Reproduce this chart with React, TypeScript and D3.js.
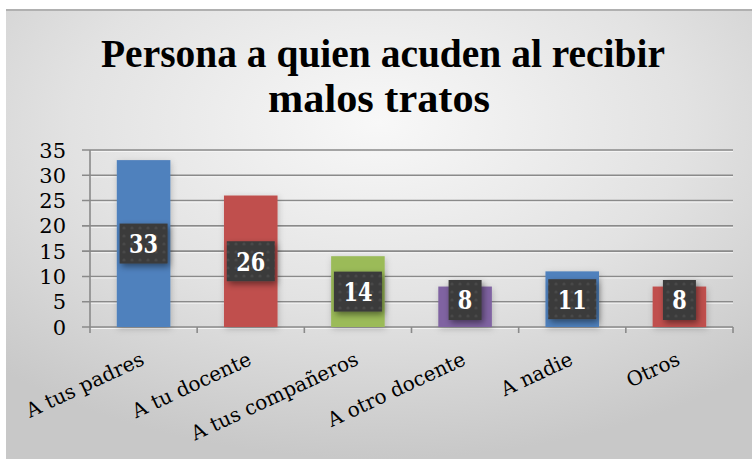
import React from "react";
import * as d3 from "d3";

const categories = ["A tus padres", "A tu docente", "A tus compañeros", "A otro docente", "A nadie", "Otros"];
const values = [33, 26, 14, 8, 11, 8];
const barColors = ["#4f81bd", "#c0504d", "#9bbb59", "#8064a2", "#4f81bd", "#c0504d"];
const yTicks = [0, 5, 10, 15, 20, 25, 30, 35];
const titleLines = ["Persona a quien acuden al recibir", "malos tratos"];

const W = 752;
const H = 459;
const left = 90;
const right = 733;
const top = 150;
const bottom = 327;
const serif = "'DejaVu Serif', 'Liberation Serif', serif";
const titleFont = "'Liberation Serif', 'DejaVu Serif', serif";

export default function App() {
  const x = d3.scaleBand<string>().domain(categories).range([left, right]).paddingInner(0.5).paddingOuter(0.25);
  const band = d3.scaleBand<string>().domain(categories).range([left, right]);
  const y = d3.scaleLinear().domain([0, 35]).range([bottom, top]);

  return (
    <div style={{ position: "absolute", left: 0, top: 0 }}>
      <svg width={W} height={H} style={{ display: "block" }}>
        <defs>
          <radialGradient id="bg" cx="50%" cy="25%" r="75%">
            <stop offset="0%" stopColor="#f8f8f8" />
            <stop offset="55%" stopColor="#e2e2e2" />
            <stop offset="100%" stopColor="#c8c8c8" />
          </radialGradient>
          <pattern id="dots" width="8" height="8" patternUnits="userSpaceOnUse">
            <rect width="8" height="8" fill="#3b3b3b" />
            <circle cx="4" cy="4" r="1.6" fill="#4a4a4a" />
          </pattern>
          <filter id="shadow" x="-30%" y="-30%" width="170%" height="180%">
            <feDropShadow dx="2" dy="3" stdDeviation="3" floodColor="#000" floodOpacity="0.45" />
          </filter>
          <filter id="barShadow" x="-30%" y="-10%" width="160%" height="130%">
            <feDropShadow dx="1" dy="2" stdDeviation="3" floodColor="#000" floodOpacity="0.2" />
          </filter>
        </defs>
        <rect x={0} y={0} width={W} height={H} fill="#ffffff" />
        <rect x={6} y={10} width={W - 6} height={H - 10} fill="url(#bg)" />
        <line x1={6} x2={W} y1={10} y2={10} stroke="#b0b0b0" strokeWidth={2} />

        {titleLines.map((t, i) => (
          <text
            key={t}
            x={i === 0 ? 383 : 379}
            y={i === 0 ? 67 : 112}
            textAnchor="middle"
            fontFamily={titleFont}
            fontWeight="bold"
            fontSize={39}
            fill="#000"
            textLength={i === 0 ? 564 : 222}
            lengthAdjust="spacingAndGlyphs"
          >
            {t}
          </text>
        ))}

        {yTicks.map((t) => (
          <g key={t}>
            <line x1={left - 8} x2={right} y1={y(t)} y2={y(t)} stroke="#8a8a8a" strokeWidth={1.6} />
            <line x1={left} x2={right} y1={y(t) + 1.5} y2={y(t) + 1.5} stroke="#f4f4f4" strokeWidth={1} />
            <text
              x={66}
              y={y(t)}
              dy="0.36em"
              textAnchor="end"
              fontFamily={serif}
              fontSize={21}
              fill="#000"
            >
              {t}
            </text>
          </g>
        ))}
        <line x1={left} x2={left} y1={top} y2={bottom} stroke="#8a8a8a" strokeWidth={1.6} />
        {d3.range(categories.length + 1).map((i) => {
          const tx = left + band.step() * i;
          return <line key={i} x1={tx} x2={tx} y1={bottom} y2={bottom + 6} stroke="#8a8a8a" strokeWidth={1.6} />;
        })}

        {categories.map((c, i) => (
          <rect
            key={c}
            x={x(c)}
            y={y(values[i])}
            width={x.bandwidth()}
            height={bottom - y(values[i])}
            fill={barColors[i]}
            filter="url(#barShadow)"
          />
        ))}

        {categories.map((c, i) => {
          const cx = (x(c) as number) + x.bandwidth() / 2;
          const cy = Math.min((y(values[i]) + bottom) / 2, bottom - 27);
          const label = String(values[i]);
          const bw = label.length > 1 ? 48 : 33;
          const bh = 40;
          return (
            <g key={c}>
              <rect x={cx - bw / 2} y={cy - bh / 2} width={bw} height={bh} fill="url(#dots)" filter="url(#shadow)" />
              <text
                x={cx}
                y={cy}
                dy="0.36em"
                textAnchor="middle"
                fontFamily={serif}
                fontWeight="bold"
                fontSize={26}
                fill="#ffffff"
                textLength={label.length * 14.5}
                lengthAdjust="spacingAndGlyphs"
              >
                {label}
              </text>
            </g>
          );
        })}

        {categories.map((c) => {
          const cx = (band(c) as number) + band.bandwidth() / 2;
          return (
            <text
              key={c}
              transform={`translate(${cx + 2},${364}) rotate(-25)`}
              textAnchor="end"
              fontFamily={serif}
              fontSize={20}
              fill="#000"
            >
              {c}
            </text>
          );
        })}
      </svg>
    </div>
  );
}
